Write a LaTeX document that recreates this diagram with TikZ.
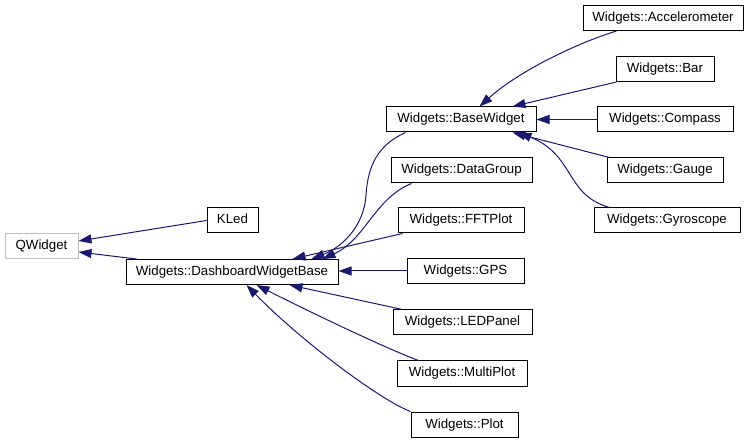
\documentclass[tikz,border=0pt]{standalone}
\usepackage{fontspec}
\setmainfont{Liberation Sans}
\usetikzlibrary{arrows.meta,calc}
\definecolor{edgeblue}{HTML}{191970}
\definecolor{qgray}{HTML}{BFBFBF}
\begin{document}
\begin{tikzpicture}[x=1pt,y=-1pt,
  box/.style={draw=black,line width=1pt,rectangle,minimum height=25pt,inner sep=0pt,
    font=\fontsize{13.3}{15}\selectfont,text height=9.8pt,text depth=2.8pt},
  edge/.style={draw=edgeblue,line width=1pt,-{Triangle[length=13pt,width=9pt]},fill=none}]
\useasboundingbox (0,0) rectangle (752,443);
% nodes
\node[box,draw=qgray,minimum width=73pt] (qw) at (41.5,246) {QWidget};
\node[box,minimum width=51pt] (kled) at (232.5,220.5) {KLed};
\node[box,minimum width=212pt] (dwb) at (232,272) {Widgets::DashboardWidgetBase};
\node[box,minimum width=150pt] (bw) at (461,119.5) {Widgets::BaseWidget};
\node[box,minimum width=160pt] (acc) at (663,18) {Widgets::Accelerometer};
\node[box,minimum width=98pt] (bar) at (665,69) {Widgets::Bar};
\node[box,minimum width=136pt] (cmp) at (665,119.5) {Widgets::Compass};
\node[box,minimum width=116pt] (gau) at (665,170.5) {Widgets::Gauge};
\node[box,minimum width=146pt] (gyr) at (667,220.5) {Widgets::Gyroscope};
\node[box,minimum width=141pt] (dg) at (461.5,170.5) {Widgets::DataGroup};
\node[box,minimum width=126pt] (fft) at (461,220.5) {Widgets::FFTPlot};
\node[box,minimum width=117pt] (gps) at (465.5,271) {Widgets::GPS};
\node[box,minimum width=139pt] (led) at (462.5,322.5) {Widgets::LEDPanel};
\node[box,minimum width=130pt] (mp) at (462,373.5) {Widgets::MultiPlot};
\node[box,minimum width=107pt] (plot) at (464.5,424.5) {Widgets::Plot};
% edges
\draw[edge] (kled.west) -- ($(qw.east)+(0,-5)$);
\draw[edge] ($(dwb.north west)+(11,0)$) -- ($(qw.east)+(0,6)$);
\draw[edge] ($(bw.south west)+(20,0)$) .. controls (378,145) and (368,165) .. (366,195)
  .. controls (364,228) and (340,248) .. ($(dwb.north west)+(186,0)$);
\draw[edge] ($(dg.south west)+(21,0)$) .. controls (375,198) and (365,240) .. ($(dwb.north west)+(197,0)$);
\draw[edge] ($(fft.south west)+(5,0)$) -- ($(dwb.north west)+(167,0)$);
\draw[edge] (gps.west) -- (dwb.east|-gps.west);
\draw[edge] ($(led.north west)+(10,0)$) -- ($(dwb.south west)+(164,0)$);
\draw[edge] ($(mp.north west)+(22,0)$) .. controls (385,348) and (310,312) .. ($(dwb.south west)+(131,0)$);
\draw[edge] (plot.north west) .. controls (380,400) and (300,340) .. ($(dwb.south west)+(121,0)$);
\draw[edge] ($(acc.south west)+(34,0)$) .. controls (580,42) and (520,70) .. ($(bw.north west)+(94,0)$);
\draw[edge] ($(bar.south west)+(1,0)$) -- ($(bw.north east)+(-24,0)$);
\draw[edge] (cmp.west) -- (bw.east);
\draw[edge] ($(gau.north west)+(3,0)$) -- ($(bw.south east)+(-24,0)$);
\draw[edge] ($(gyr.north west)+(16,0)$) .. controls (565,195) and (575,155) .. ($(bw.south east)+(-18,0)$);
\end{tikzpicture}
\end{document}
